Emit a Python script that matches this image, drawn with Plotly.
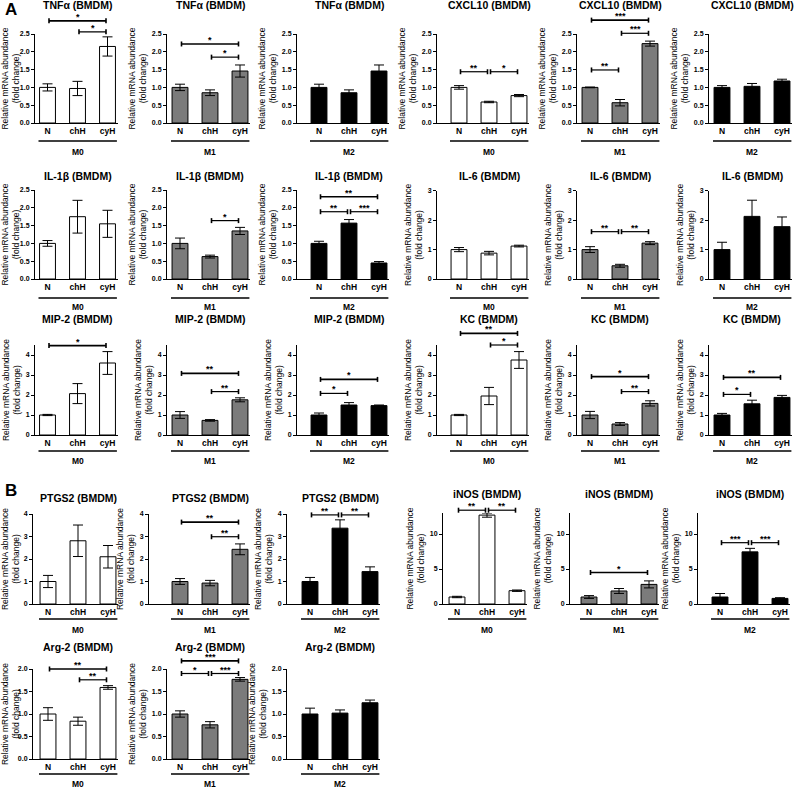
import plotly.graph_objects as go

W, H = 798, 788
CATS = ["N", "chH", "cyH"]
GROUPS = ["M0", "M1", "M2"]
FILLS = ["#ffffff", "#7b7b7b", "#000000"]
FONT = "Liberation Sans"

# ---- data (mean, error) per gene, per group M0/M1/M2 ----
TNFA_MEAN = [[1.00, 0.97, 2.15], [1.00, 0.85, 1.46], [1.00, 0.85, 1.46]]
TNFA_ERR = [[0.10, 0.20, 0.27], [0.09, 0.08, 0.17], [0.09, 0.08, 0.17]]
TNFA_SIG = [[(0, 2, 2.87, "*"), (1, 2, 2.56, "*")], [(0, 2, 2.22, "*"), (1, 2, 1.85, "*")], []]

CXCL10_MEAN = [[1.00, 0.59, 0.77], [1.00, 0.57, 2.23], [1.00, 1.03, 1.18]]
CXCL10_ERR = [[0.05, 0.02, 0.03], [0.01, 0.09, 0.07], [0.05, 0.08, 0.05]]
CXCL10_SIG = [[(0, 1, 1.44, "**"), (1, 2, 1.44, "*")],
              [(0, 2, 2.89, "***"), (1, 2, 2.52, "***"), (0, 1, 1.49, "**")], []]

IL1B_MEAN = [[1.00, 1.75, 1.55], [1.00, 0.63, 1.35], [1.00, 1.57, 0.45]]
IL1B_ERR = [[0.08, 0.46, 0.38], [0.15, 0.04, 0.10], [0.06, 0.10, 0.04]]
IL1B_SIG = [[], [(1, 2, 1.64, "*")],
            [(0, 2, 2.31, "**"), (0, 1, 1.89, "**"), (1, 2, 1.89, "***")]]

IL6_MEAN = [[1.00, 0.88, 1.12], [1.00, 0.45, 1.22], [1.00, 2.13, 1.78]]
IL6_ERR = [[0.07, 0.06, 0.03], [0.10, 0.05, 0.05], [0.25, 0.55, 0.33]]
IL6_SIG = [[], [(0, 1, 1.61, "**"), (1, 2, 1.61, "**")], []]

MIP2_MEAN = [[1.00, 2.07, 3.60], [1.00, 0.73, 1.76], [1.00, 1.50, 1.47]]
MIP2_ERR = [[0.03, 0.50, 0.57], [0.17, 0.04, 0.10], [0.10, 0.12, 0.03]]
MIP2_SIG = [[(0, 2, 4.47, "*")], [(0, 2, 3.08, "**"), (1, 2, 2.17, "**")],
            [(0, 2, 2.78, "*"), (0, 1, 2.08, "*")]]

KC_MEAN = [[1.00, 1.95, 3.75], [1.00, 0.55, 1.58], [1.00, 1.56, 1.88]]
KC_ERR = [[0.03, 0.43, 0.42], [0.18, 0.07, 0.13], [0.08, 0.18, 0.10]]
KC_SIG = [[(0, 2, 5.08, "**"), (1, 2, 4.50, "*")], [(0, 2, 2.92, "*"), (1, 2, 2.17, "**")],
          [(0, 2, 2.88, "**"), (0, 1, 2.03, "*")]]

PTGS2_MEAN = [[1.00, 2.81, 2.10], [1.00, 0.93, 2.43], [1.00, 3.37, 1.44]]
PTGS2_ERR = [[0.27, 0.70, 0.50], [0.13, 0.12, 0.24], [0.18, 0.37, 0.21]]
PTGS2_SIG = [[], [(0, 2, 3.64, "**"), (1, 2, 2.99, "**")],
             [(0, 1, 3.96, "**"), (1, 2, 3.96, "**")]]

INOS_MEAN = [[1.00, 12.70, 1.90], [1.00, 1.86, 2.80], [1.00, 7.45, 0.80]]
INOS_ERR = [[0.10, 0.30, 0.10], [0.20, 0.35, 0.50], [0.50, 0.50, 0.10]]
INOS_SIG = [[(0, 1, 13.4, "**"), (1, 2, 13.4, "**")], [(0, 2, 4.50, "*")],
            [(0, 1, 8.76, "***"), (1, 2, 8.76, "***")]]

ARG2_MEAN = [[1.00, 0.84, 1.59], [1.00, 0.76, 1.77], [1.00, 1.02, 1.25]]
ARG2_ERR = [[0.14, 0.09, 0.04], [0.07, 0.07, 0.04], [0.13, 0.07, 0.06]]
ARG2_SIG = [[(0, 2, 2.00, "**"), (1, 2, 1.76, "**")],
            [(0, 2, 2.18, "***"), (0, 1, 1.90, "*"), (1, 2, 1.90, "***")], []]

# ---- layout geometry (pixels) ----
A_COLS = [(35, 47.5), (167, 180), (297, 319), (437, 459), (577, 590), (709, 722)]
B1_COLS = [(33, 48), (149, 180), (287, 310), (443, 457), (570, 589), (698, 720)]
B2_COLS = [(33, 48), (167, 180), (287, 310)]

T25 = [0, 0.5, 1, 1.5, 2, 2.5]
ROWS = {
    "A1": dict(base=123, scale=35.6, rmax=2.5, ticks=T25, fmt="{:.1f}", ty=5, ul=18, gl=29, cols=A_COLS),
    "A2a": dict(base=279, scale=35.6, rmax=2.5, ticks=T25, fmt="{:.1f}", ty=176, ul=19, gl=28, cols=A_COLS),
    "A2b": dict(base=279, scale=29.4, rmax=3, ticks=[0, 1, 2, 3], fmt="{:d}", ty=176, ul=19, gl=28, cols=A_COLS),
    "A3": dict(base=435, scale=20.0, rmax=4.5, ticks=[0, 1, 2, 3, 4], fmt="{:d}", ty=319, ul=16, gl=26, cols=A_COLS),
    "B1a": dict(base=604, scale=22.5, rmax=4, ticks=[0, 1, 2, 3, 4], fmt="{:d}", ty=498, ul=15, gl=26, cols=B1_COLS),
    "B1b": dict(base=604, scale=7.0, rmax=13, ticks=[0, 5, 10], fmt="{:d}", ty=494, ul=15, gl=26, cols=B1_COLS),
    "B2": dict(base=759, scale=45.0, rmax=2, ticks=[0, 0.5, 1, 1.5, 2], fmt="{:.1f}", ty=647, ul=15, gl=25, cols=B2_COLS),
}

GENES = [
    ("TNFα (BMDM)", TNFA_MEAN, TNFA_ERR, TNFA_SIG, "A1", 0),
    ("CXCL10 (BMDM)", CXCL10_MEAN, CXCL10_ERR, CXCL10_SIG, "A1", 3),
    ("IL-1β (BMDM)", IL1B_MEAN, IL1B_ERR, IL1B_SIG, "A2a", 0),
    ("IL-6 (BMDM)", IL6_MEAN, IL6_ERR, IL6_SIG, "A2b", 3),
    ("MIP-2 (BMDM)", MIP2_MEAN, MIP2_ERR, MIP2_SIG, "A3", 0),
    ("KC (BMDM)", KC_MEAN, KC_ERR, KC_SIG, "A3", 3),
    ("PTGS2 (BMDM)", PTGS2_MEAN, PTGS2_ERR, PTGS2_SIG, "B1a", 0),
    ("iNOS (BMDM)", INOS_MEAN, INOS_ERR, INOS_SIG, "B1b", 3),
    ("Arg-2 (BMDM)", ARG2_MEAN, ARG2_ERR, ARG2_SIG, "B2", 0),
]

fig = go.Figure()
shapes, annots = [], []
layout_axes = {}
n = 0
for title, means, errs, sigs, rowkey, col0 in GENES:
    R = ROWS[rowkey]
    for g in range(3):
        n += 1
        sfx = "" if n == 1 else str(n)
        ax_px, nc_px = R["cols"][col0 + g]
        xmin = (ax_px - nc_px) / 30.0
        xmax = 2 + 10 / 30.0
        h_px = R["rmax"] * R["scale"]
        y0p = 1 - R["base"] / H
        y1p = 1 - (R["base"] - h_px) / H

        def yp(v, y0p=y0p, y1p=y1p, rmax=R["rmax"]):
            return y0p + v / rmax * (y1p - y0p)

        fig.add_trace(go.Bar(
            x=CATS, y=means[g], width=0.53,
            marker=dict(color=FILLS[g], line=dict(color="black", width=1)),
            error_y=dict(type="data", array=errs[g], color="black", thickness=1, width=5),
            xaxis="x" + sfx, yaxis="y" + sfx, showlegend=False, hoverinfo="skip",
        ))
        layout_axes["xaxis" + sfx] = dict(
            domain=[ax_px / W, (nc_px + 70) / W], anchor="y" + sfx, range=[xmin, xmax],
            showline=True, linecolor="black", linewidth=1, ticks="", showgrid=False,
            zeroline=False, fixedrange=True,
            tickfont=dict(family=FONT, size=8.5, color="black", weight="bold"),
        )
        layout_axes["yaxis" + sfx] = dict(
            domain=[y0p, y1p], anchor="x" + sfx, range=[0, R["rmax"]],
            showline=True, linecolor="black", linewidth=1, ticks="outside", ticklen=3,
            tickwidth=1, tickcolor="black", showgrid=False, zeroline=False, fixedrange=True,
            tickvals=R["ticks"], ticktext=[R["fmt"].format(t) for t in R["ticks"]],
            tickfont=dict(family=FONT, size=7, color="black", weight="bold"),
            title=dict(text="Relative mRNA abundance<br>(fold change)", standoff=3,
                       font=dict(family=FONT, size=8.5, color="black")),
        )
        xr = "x" + sfx
        # title
        annots.append(dict(x=1, y=1 - R["ty"] / H, xref=xr, yref="paper", text=title,
                           showarrow=False, xanchor="center", yanchor="middle",
                           font=dict(family=FONT, size=10.5, color="black", weight="bold")))
        # group underline + label
        shapes.append(dict(type="line", xref=xr, yref="paper", x0=-0.3, x1=xmax - 0.02,
                           y0=y0p - R["ul"] / H, y1=y0p - R["ul"] / H,
                           line=dict(color="black", width=1.6)))
        annots.append(dict(x=1, y=y0p - R["gl"] / H, xref=xr, yref="paper", text=GROUPS[g],
                           showarrow=False, xanchor="center", yanchor="middle",
                           font=dict(family=FONT, size=8.5, color="black", weight="bold")))
        # significance bars
        cap = 2.5 / H
        for i, j, v, lab in sigs[g]:
            xa0, xa1 = i + 0.05, j - 0.05
            yy = yp(v)
            lw = 1.6 if (j - i) == 2 else 1.2
            shapes.append(dict(type="line", xref=xr, yref="paper", x0=xa0, x1=xa1, y0=yy, y1=yy,
                               line=dict(color="black", width=lw)))
            for xe in (xa0, xa1):
                shapes.append(dict(type="line", xref=xr, yref="paper", x0=xe, x1=xe,
                                   y0=yy - cap, y1=yy + cap, line=dict(color="black", width=1.6)))
            annots.append(dict(x=(i + j) / 2, y=yy + 4 / H, xref=xr, yref="paper", text=lab,
                               showarrow=False, xanchor="center", yanchor="middle",
                               font=dict(family=FONT, size=9, color="black", weight="bold")))

annots.append(dict(x=3 / W, y=1 - 10 / H, xref="paper", yref="paper", text="A", showarrow=False,
                   xanchor="left", yanchor="middle",
                   font=dict(family=FONT, size=17, color="black", weight="bold")))
annots.append(dict(x=3 / W, y=1 - 490 / H, xref="paper", yref="paper", text="B", showarrow=False,
                   xanchor="left", yanchor="middle",
                   font=dict(family=FONT, size=17, color="black", weight="bold")))

fig.update_layout(
    width=W, height=H, margin=dict(l=0, r=0, t=0, b=0, autoexpand=False),
    paper_bgcolor="white", plot_bgcolor="white", bargap=0.2,
    font=dict(family=FONT, color="black"),
    shapes=shapes, annotations=annots, **layout_axes,
)
fig.write_html(
    "out.html",
    config={"displayModeBar": False},
    post_script="document.body.style.margin='0';document.documentElement.style.overflow='hidden';",
)
